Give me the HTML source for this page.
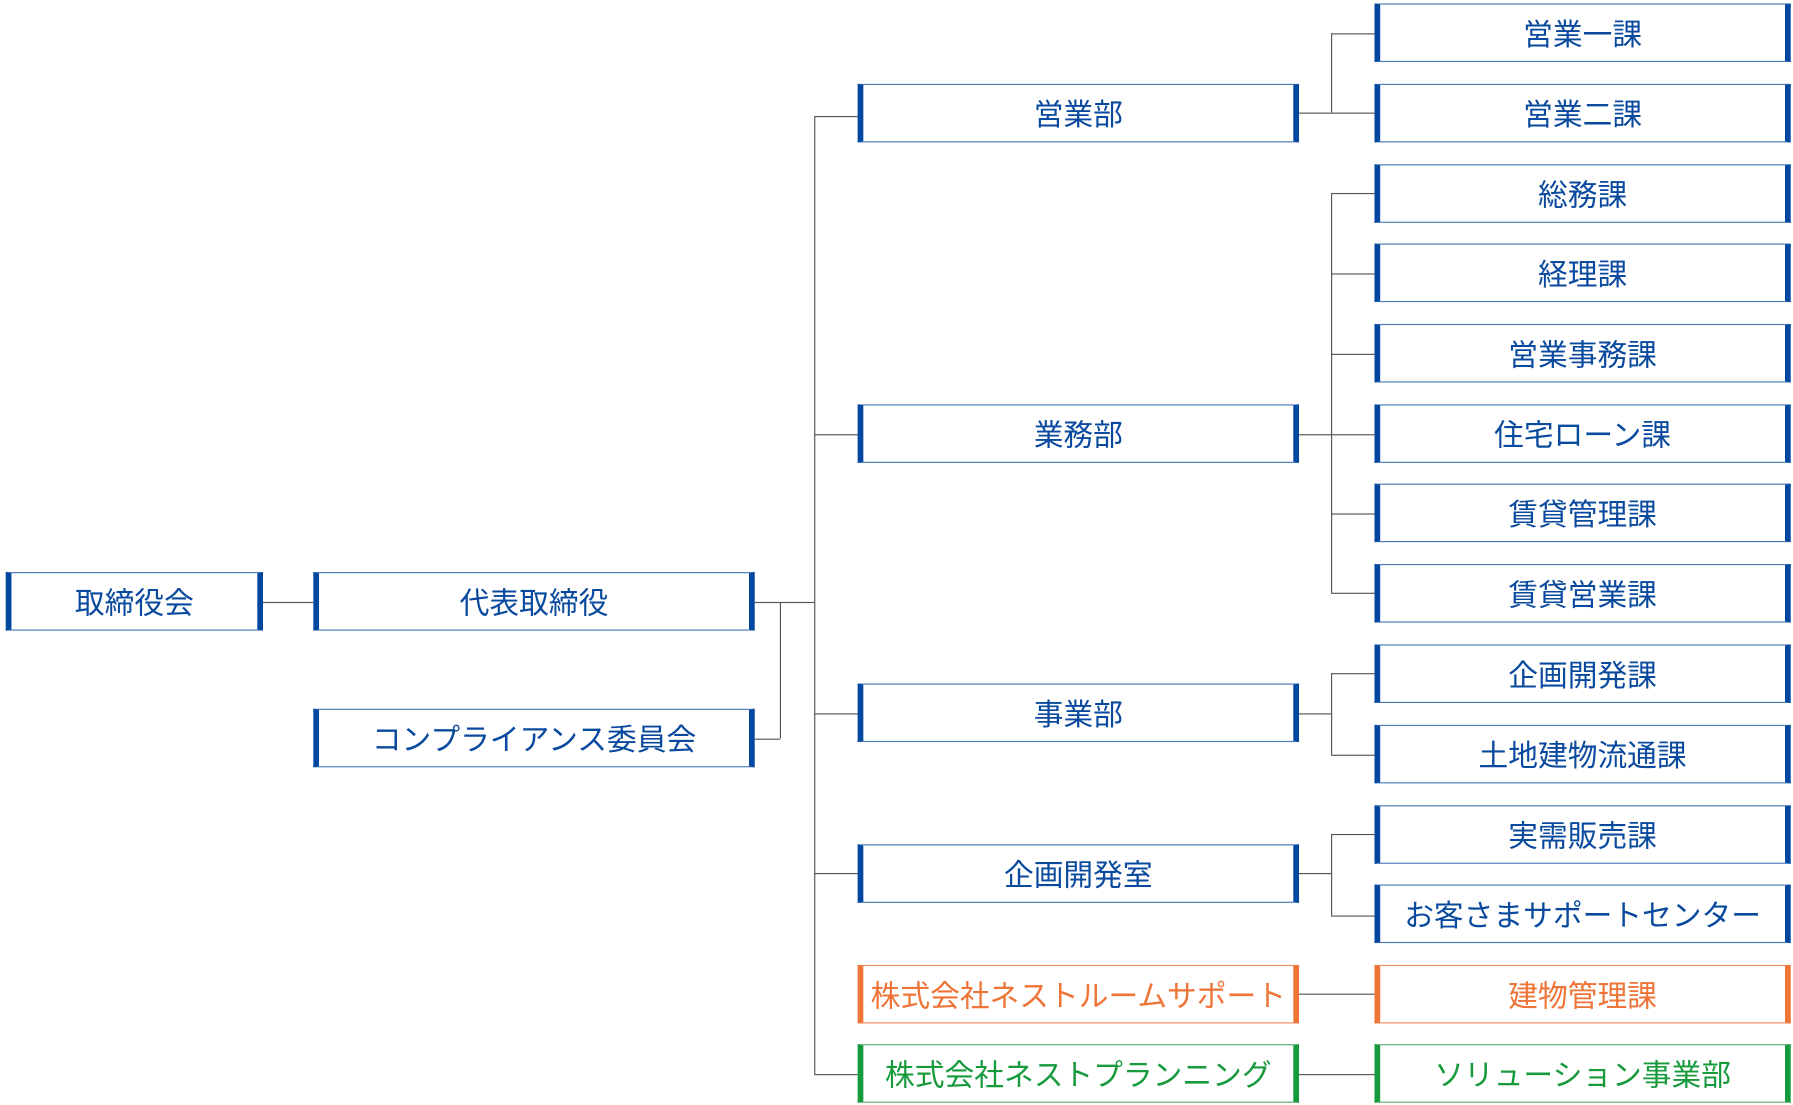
<!DOCTYPE html>
<html><head><meta charset="utf-8"><style>
html,body{margin:0;padding:0;background:#fff;width:1793px;height:1105px;overflow:hidden}
#c{position:absolute;left:0;top:0;width:1568px;height:962px;transform:scale(1.1435,1.1487);transform-origin:0 0}
.b{position:absolute;box-sizing:border-box;height:51px;border:1.5px solid #4a78b8;border-left:5px solid #0047a0;border-right:5px solid #0047a0;color:#0a4a9e;font-family:"Liberation Sans","Noto Sans CJK JP",sans-serif;font-size:26px;display:flex;align-items:center;justify-content:center;background:#fff;white-space:nowrap}
.o{border-color:#f0895a;border-left-color:#ee7437;border-right-color:#ee7437;color:#ee7437}
.g{border-color:#5aaa6e;border-left-color:#179a3c;border-right-color:#179a3c;color:#179a3c}
.h{position:absolute;height:1.3px;background:#555}
.v{position:absolute;width:1.3px;background:#555}
</style></head><body><div id="c">
<div class="h" style="left:230px;top:524px;width:44px"></div>
<div class="h" style="left:660px;top:524px;width:52px"></div>
<div class="v" style="left:682px;top:524px;height:119px"></div>
<div class="h" style="left:660px;top:643px;width:22px"></div>
<div class="v" style="left:712px;top:101px;height:834px"></div>
<div class="h" style="left:712px;top:101px;width:38px"></div>
<div class="h" style="left:712px;top:378px;width:38px"></div>
<div class="h" style="left:712px;top:621px;width:38px"></div>
<div class="h" style="left:712px;top:760px;width:38px"></div>
<div class="h" style="left:712px;top:935px;width:38px"></div>
<div class="h" style="left:1136px;top:98px;width:66px"></div>
<div class="v" style="left:1164px;top:29px;height:69px"></div>
<div class="h" style="left:1164px;top:29px;width:38px"></div>
<div class="h" style="left:1136px;top:378px;width:66px"></div>
<div class="v" style="left:1164px;top:168px;height:348px"></div>
<div class="h" style="left:1164px;top:168px;width:38px"></div>
<div class="h" style="left:1164px;top:238px;width:38px"></div>
<div class="h" style="left:1164px;top:308px;width:38px"></div>
<div class="h" style="left:1164px;top:447px;width:38px"></div>
<div class="h" style="left:1164px;top:516px;width:38px"></div>
<div class="h" style="left:1136px;top:621px;width:28px"></div>
<div class="v" style="left:1164px;top:586px;height:71px"></div>
<div class="h" style="left:1164px;top:586px;width:38px"></div>
<div class="h" style="left:1164px;top:657px;width:38px"></div>
<div class="h" style="left:1136px;top:760px;width:28px"></div>
<div class="v" style="left:1164px;top:726px;height:71px"></div>
<div class="h" style="left:1164px;top:726px;width:38px"></div>
<div class="h" style="left:1164px;top:797px;width:38px"></div>
<div class="h" style="left:1136px;top:865px;width:66px"></div>
<div class="h" style="left:1136px;top:935px;width:66px"></div>

<div class="b" style="left:5px;top:498px;width:225px">取締役会</div>
<div class="b" style="left:274px;top:498px;width:386px">代表取締役</div>
<div class="b" style="left:274px;top:617px;width:386px">コンプライアンス委員会</div>

<div class="b" style="left:750px;top:73px;width:386px">営業部</div>
<div class="b" style="left:750px;top:352px;width:386px">業務部</div>
<div class="b" style="left:750px;top:595px;width:386px">事業部</div>
<div class="b" style="left:750px;top:735px;width:386px">企画開発室</div>
<div class="b o" style="left:750px;top:840px;width:386px">株式会社ネストルームサポート</div>
<div class="b g" style="left:750px;top:909px;width:386px">株式会社ネストプランニング</div>

<div class="b" style="left:1202px;top:3px;width:364px">営業一課</div>
<div class="b" style="left:1202px;top:73px;width:364px">営業二課</div>
<div class="b" style="left:1202px;top:143px;width:364px">総務課</div>
<div class="b" style="left:1202px;top:212px;width:364px">経理課</div>
<div class="b" style="left:1202px;top:282px;width:364px">営業事務課</div>
<div class="b" style="left:1202px;top:352px;width:364px">住宅ローン課</div>
<div class="b" style="left:1202px;top:421px;width:364px">賃貸管理課</div>
<div class="b" style="left:1202px;top:491px;width:364px">賃貸営業課</div>
<div class="b" style="left:1202px;top:561px;width:364px">企画開発課</div>
<div class="b" style="left:1202px;top:631px;width:364px">土地建物流通課</div>
<div class="b" style="left:1202px;top:701px;width:364px">実需販売課</div>
<div class="b" style="left:1202px;top:770px;width:364px">お客さまサポートセンター</div>
<div class="b o" style="left:1202px;top:840px;width:364px">建物管理課</div>
<div class="b g" style="left:1202px;top:909px;width:364px">ソリューション事業部</div>
</div></body></html>
